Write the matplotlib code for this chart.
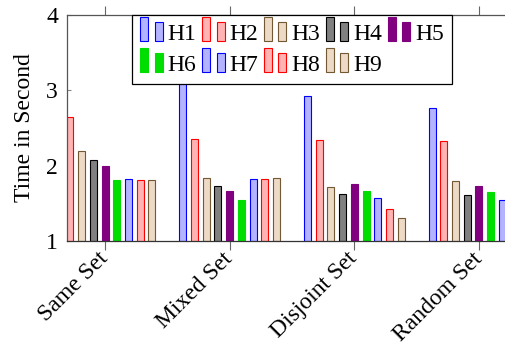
import matplotlib
matplotlib.use("Agg")
import matplotlib.pyplot as plt
import numpy as np
from matplotlib.container import BarContainer
from matplotlib.legend_handler import HandlerBase
from matplotlib.patches import Rectangle

categories = ["Same Set", "Mixed Set", "Disjoint Set", "Random Set"]
series = ["H1", "H2", "H3", "H4", "H5", "H6", "H7", "H8", "H9"]

h1 = [2.90, 3.45, 2.92, 2.77]
h2 = [2.64, 2.36, 2.34, 2.33]
h3 = [2.19, 1.83, 1.72, 1.80]
h4 = [2.08, 1.73, 1.63, 1.61]
h5 = [1.99, 1.67, 1.76, 1.73]
h6 = [1.81, 1.54, 1.67, 1.65]
h7 = [1.82, 1.82, 1.57, 1.54]
h8 = [1.81, 1.82, 1.43, 1.50]
h9 = [1.81, 1.84, 1.31, 1.45]
values = [h1, h2, h3, h4, h5, h6, h7, h8, h9]

# pgfplots-like bar cycle
blue = ("#b3b3ff", "blue")
red = ("#ffb3b3", "red")
brown = ("#ecd9c6", "#735933")
gray = ("#808080", "black")
styles = [blue, red, brown, gray, ("#800080", "#800080"),
          ("#00dd00", "#00dd00"), blue, red, brown]

plt.rcParams["font.family"] = ["Liberation Serif", "DejaVu Serif"]
plt.rcParams["font.size"] = 17


class TwoBarHandler(HandlerBase):
    def create_artists(self, legend, orig_handle, xdescent, ydescent,
                       width, height, fontsize, trans):
        p = orig_handle.patches[0]
        fc, ec = p.get_facecolor(), p.get_edgecolor()
        bw = width * 0.36
        x0 = -xdescent
        y0 = -ydescent - 0.1 * height
        r1 = Rectangle((x0, y0), bw, height * 1.45, facecolor=fc,
                       edgecolor=ec, linewidth=0.8, transform=trans)
        r2 = Rectangle((x0 + width - bw, y0), bw, height * 1.15,
                       facecolor=fc, edgecolor=ec, linewidth=0.8,
                       transform=trans)
        return [r1, r2]


fig = plt.figure(figsize=(5.05, 3.45), dpi=100)
ax = fig.add_axes([0.1327, 0.3014, 0.891, 0.6551])

x = np.arange(len(categories))
step = 0.094
width = 0.056
containers = []
for i, (vals, (fc, ec)) in enumerate(zip(values, styles)):
    c = ax.bar(x + (i - 4) * step, np.array(vals) - 1, width=width,
               bottom=1, color=fc, edgecolor=ec, linewidth=0.8, zorder=2)
    containers.append(c)

ax.set_xlim(-0.305, 3.305)
ax.set_ylim(1, 4)
ax.set_yticks([1, 2, 3, 4])
ax.set_xticks(x)
ax.set_xticklabels(categories, rotation=45, ha="right", va="center",
                   rotation_mode="anchor")
ax.tick_params(axis="x", direction="out", length=6.5, top=True,
               color="#666666", pad=4)
ax.tick_params(axis="y", direction="in", length=3, color="#888888", pad=6.5)
for s in ax.spines.values():
    s.set_color("#555555")
    s.set_linewidth(0.9)
ax.spines["bottom"].set_color("#333333")
ax.set_ylabel("Time in Second", labelpad=8)

# legend filled column by column, so reorder to get H1-H5 on the top row
order = [0, 5, 1, 6, 2, 7, 3, 8, 4]
leg = ax.legend([containers[k] for k in order], [series[k] for k in order],
                ncol=5, loc="upper left",
                bbox_to_anchor=(132 / 505, 1 - 15 / 345),
                bbox_transform=fig.transFigure,
                handler_map={BarContainer: TwoBarHandler()},
                frameon=True, fancybox=False, framealpha=1, edgecolor="black",
                handlelength=0.95, handletextpad=0.2, columnspacing=0.25,
                borderpad=0.35, labelspacing=0.4, borderaxespad=0)
leg.get_frame().set_linewidth(0.9)
leg.set_zorder(5)

fig.savefig("out.png", dpi=100)
